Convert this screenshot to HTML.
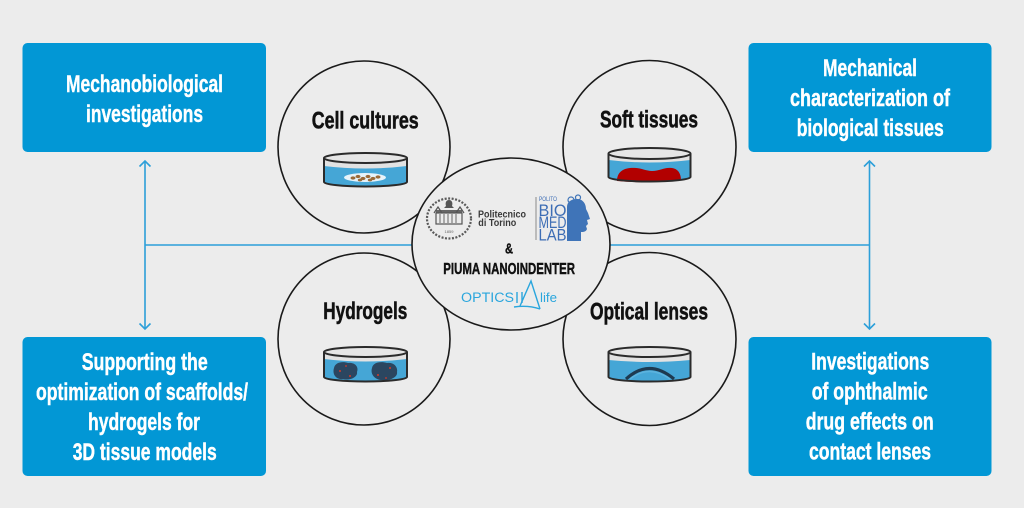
<!DOCTYPE html>
<html><head><meta charset="utf-8"><style>
html,body{margin:0;padding:0;background:#ececec;}
svg{display:block;}
.bt{font-family:"Liberation Sans Narrow","Liberation Sans",sans-serif;font-weight:bold;font-size:24px;fill:#fff;stroke:#fff;stroke-width:0.45px;}
.ct{font-family:"Liberation Sans Narrow","Liberation Sans",sans-serif;font-weight:bold;font-size:24px;fill:#111;stroke:#111;stroke-width:0.55px;}
</style></head><body>
<svg width="1024" height="508" viewBox="0 0 1024 508" xmlns="http://www.w3.org/2000/svg">
<rect width="1024" height="508" fill="#ececec"/>

<!-- boxes -->
<rect x="22.5" y="43" width="243.5" height="109" rx="5" fill="#0297d5"/>
<rect x="22.5" y="337" width="243.5" height="139" rx="5" fill="#0297d5"/>
<rect x="748.5" y="43" width="243" height="109" rx="5" fill="#0297d5"/>
<rect x="748.5" y="337" width="243" height="139" rx="5" fill="#0297d5"/>

<text class="bt" x="66" y="92" textLength="157" lengthAdjust="spacingAndGlyphs">Mechanobiological</text>
<text class="bt" x="86" y="122" textLength="117" lengthAdjust="spacingAndGlyphs">investigations</text>
<text class="bt" x="81.7" y="370" textLength="126" lengthAdjust="spacingAndGlyphs">Supporting the</text>
<text class="bt" x="36" y="400" textLength="212" lengthAdjust="spacingAndGlyphs">optimization of scaffolds/</text>
<text class="bt" x="88" y="430" textLength="112" lengthAdjust="spacingAndGlyphs">hydrogels for</text>
<text class="bt" x="72.7" y="460" textLength="144" lengthAdjust="spacingAndGlyphs">3D tissue models</text>
<text class="bt" x="823" y="76" textLength="94" lengthAdjust="spacingAndGlyphs">Mechanical</text>
<text class="bt" x="790" y="106" textLength="160" lengthAdjust="spacingAndGlyphs">characterization of</text>
<text class="bt" x="796.7" y="136" textLength="147" lengthAdjust="spacingAndGlyphs">biological tissues</text>
<text class="bt" x="811.3" y="369.5" textLength="118" lengthAdjust="spacingAndGlyphs">Investigations</text>
<text class="bt" x="811.7" y="399.5" textLength="116" lengthAdjust="spacingAndGlyphs">of ophthalmic</text>
<text class="bt" x="805.7" y="429.5" textLength="128" lengthAdjust="spacingAndGlyphs">drug effects on</text>
<text class="bt" x="809" y="459.5" textLength="122" lengthAdjust="spacingAndGlyphs">contact lenses</text>

<!-- connectors -->
<g stroke="#2c9fd9" stroke-width="1.6" fill="none">
<line x1="145" y1="161" x2="145" y2="329"/>
<polyline points="139.5,166.5 145,161 150.5,166.5"/>
<polyline points="139.5,323.5 145,329 150.5,323.5"/>
<line x1="869.5" y1="161" x2="869.5" y2="329"/>
<polyline points="864,166.5 869.5,161 875,166.5"/>
<polyline points="864,323.5 869.5,329 875,323.5"/>
<line x1="145" y1="245" x2="869.5" y2="245"/>
</g>

<!-- outer circles -->
<g fill="#ececec" stroke="#1a1a1a" stroke-width="1.6">
<circle cx="364" cy="147" r="86"/>
<circle cx="649.5" cy="147" r="86.5"/>
<circle cx="364" cy="339" r="86"/>
<circle cx="649.5" cy="339" r="86.5"/>
</g>

<text class="ct" x="311.7" y="128.3" textLength="107" lengthAdjust="spacingAndGlyphs">Cell cultures</text>
<text class="ct" x="600" y="127.5" textLength="98" lengthAdjust="spacingAndGlyphs">Soft tissues</text>
<text class="ct" x="323.3" y="319" textLength="84" lengthAdjust="spacingAndGlyphs">Hydrogels</text>
<text class="ct" x="590" y="319.3" textLength="118" lengthAdjust="spacingAndGlyphs">Optical lenses</text>

<!-- Cell cultures dish -->
<g>
<path d="M324,158 V182 A41.5,4.5 0 0 0 407,182 V158 Z" fill="#e2e2e2"/>
<path d="M324,166 Q365.5,171 407,166 V182 A41.5,4.5 0 0 1 324,182 Z" fill="#45a6d6"/>
<ellipse cx="365" cy="177.5" rx="21" ry="4.5" fill="#e6f3fa"/>
<g fill="#9b6a38">
<ellipse cx="353" cy="178" rx="2.5" ry="1.6"/><ellipse cx="358" cy="176.5" rx="2.5" ry="1.6"/>
<ellipse cx="363" cy="178.5" rx="2.5" ry="1.6"/><ellipse cx="368" cy="176.5" rx="2.5" ry="1.6"/>
<ellipse cx="373" cy="178.5" rx="2.5" ry="1.6"/><ellipse cx="378" cy="177" rx="2.5" ry="1.6"/>
<ellipse cx="360" cy="180" rx="2.2" ry="1.4"/><ellipse cx="370" cy="180" rx="2.2" ry="1.4"/>
</g>
<path d="M324,158 V182 A41.5,4.5 0 0 0 407,182 V158" fill="none" stroke="#2b2b2b" stroke-width="2"/>
<ellipse cx="365.5" cy="158" rx="41.5" ry="5" fill="#e6e6e6" stroke="#2b2b2b" stroke-width="2"/>
</g>

<!-- Soft tissues dish -->
<g>
<path d="M608.5,153.5 V177 A41,4.5 0 0 0 690.5,177 V153.5 Z" fill="#e2e2e2"/>
<path d="M608.5,160 Q649.5,165 690.5,160 V177 A41,4.5 0 0 1 608.5,177 Z" fill="#45a6d6"/>
<path d="M617,181 C617,175 620,169 630,168 C640,167 645,171 652,171 C660,171 664,167 672,168 C679,169 681,175 681,180 Q650,184 617,181 Z" fill="#b20000"/>
<path d="M608.5,153.5 V177 A41,4.5 0 0 0 690.5,177 V153.5" fill="none" stroke="#2b2b2b" stroke-width="2"/>
<ellipse cx="649.5" cy="153.5" rx="41" ry="5.5" fill="#e6e6e6" stroke="#2b2b2b" stroke-width="2"/>
</g>

<!-- Hydrogels dish -->
<g>
<path d="M324,352 V377 A41.5,4.5 0 0 0 407,377 V352 Z" fill="#e2e2e2"/>
<path d="M324,359 Q365.5,364 407,359 V377 A41.5,4.5 0 0 1 324,377 Z" fill="#45a6d6"/>
<g fill="#2b4660">
<path d="M334,368 C335,362 343,361 348,363 C355,362 359,367 357,372 C358,377 350,381 343,379 C336,380 332,374 334,368 Z"/>
<path d="M372,368 C373,362 381,361 387,363 C394,362 398,367 397,372 C398,377 390,381 382,380 C375,380 370,374 372,368 Z"/>
</g>
<g fill="#d23a2a">
<circle cx="340" cy="371" r="1"/><circle cx="350" cy="376" r="1"/><circle cx="346" cy="366" r="0.9"/>
<circle cx="378" cy="375" r="1"/><circle cx="390" cy="368" r="1"/><circle cx="386" cy="378" r="0.9"/>
</g>
<path d="M324,352 V377 A41.5,4.5 0 0 0 407,377 V352" fill="none" stroke="#2b2b2b" stroke-width="2"/>
<ellipse cx="365.5" cy="352" rx="41.5" ry="5" fill="#e6e6e6" stroke="#2b2b2b" stroke-width="2"/>
</g>

<!-- Optical lenses dish -->
<g>
<path d="M608.5,352 V377 A41,4.5 0 0 0 690.5,377 V352 Z" fill="#e2e2e2"/>
<path d="M608.5,360 Q649.5,364 690.5,360 V377 A41,4.5 0 0 1 608.5,377 Z" fill="#45a6d6"/>
<path d="M626,379 Q649,358 674,379" fill="none" stroke="#1e3a50" stroke-width="3.2"/>
<path d="M630,379 Q649,364 670,379" fill="none" stroke="#5cb3de" stroke-width="1.5"/>
<path d="M608.5,352 V377 A41,4.5 0 0 0 690.5,377 V352" fill="none" stroke="#2b2b2b" stroke-width="2"/>
<ellipse cx="649.5" cy="352" rx="41" ry="5" fill="#e6e6e6" stroke="#2b2b2b" stroke-width="2"/>
</g>

<!-- center ellipse -->
<ellipse cx="511" cy="244" rx="99" ry="86" fill="#ececec" stroke="#1a1a1a" stroke-width="1.6"/>

<!-- Politecnico seal -->
<g>
<ellipse cx="449" cy="218.5" rx="22" ry="20" fill="none" stroke="#5a5a5a" stroke-width="2.2" stroke-dasharray="2 1.5"/>
<path d="M449,200 c-3,0 -4,3 -3,6 l-2,2 h10 l-2,-2 c1,-3 0,-6 -3,-6z" fill="#555"/>
<rect x="436" y="210" width="26" height="3" fill="#666"/>
<rect x="436" y="213" width="26" height="11" fill="none" stroke="#555" stroke-width="1.2"/>
<g stroke="#666" stroke-width="1"><line x1="440" y1="214" x2="440" y2="223"/><line x1="444" y1="214" x2="444" y2="223"/><line x1="448" y1="214" x2="448" y2="223"/><line x1="452" y1="214" x2="452" y2="223"/><line x1="456" y1="214" x2="456" y2="223"/></g>
<path d="M434,213 L438,207 L442,213 M456,213 L460,207 L464,213" fill="none" stroke="#555" stroke-width="1.2"/>
<text x="449" y="233" font-family="Liberation Sans, sans-serif" font-size="4" fill="#666" text-anchor="middle">1859</text>
</g>
<text x="478" y="217.3" font-family="Liberation Sans, sans-serif" font-weight="bold" font-size="10" fill="#3a3a3a" textLength="48" lengthAdjust="spacingAndGlyphs">Politecnico</text>
<text x="478.3" y="226" font-family="Liberation Sans, sans-serif" font-weight="bold" font-size="10" fill="#3a3a3a" textLength="38" lengthAdjust="spacingAndGlyphs">di Torino</text>

<!-- BIOMEDLAB -->
<line x1="536" y1="197" x2="536" y2="240" stroke="#8a8a8a" stroke-width="1"/>
<g font-family="Liberation Sans, sans-serif" fill="#3d6db5">
<text x="539" y="201" font-size="6" textLength="18" lengthAdjust="spacingAndGlyphs">POLITO</text>
<text x="538.5" y="216" font-size="16.5" textLength="28" lengthAdjust="spacingAndGlyphs">BIO</text>
<text x="538.5" y="228" font-size="16.5" textLength="28" lengthAdjust="spacingAndGlyphs">MED</text>
<text x="538.5" y="240.5" font-size="16.5" textLength="28" lengthAdjust="spacingAndGlyphs">LAB</text>
</g>
<path d="M567,241 V207 C567,202 571,199 577,199 C583,199 586,204 586,209 L588,213 L590,219 L587,220 L588,224 L586,226 L587,229 C586,232 583,232 581,232 L581,241 Z" fill="#3f74b8"/>
<g fill="none" stroke="#3f74b8" stroke-width="1.2">
<circle cx="571" cy="200" r="3"/><circle cx="578" cy="197.5" r="2.5"/>
</g>

<!-- & and PIUMA -->
<text x="505" y="253.3" font-family="Liberation Sans Narrow, Liberation Sans, sans-serif" font-weight="bold" font-size="14.5" fill="#111" stroke="#111" stroke-width="0.4" textLength="8" lengthAdjust="spacingAndGlyphs">&amp;</text>
<text x="443.3" y="274" font-family="Liberation Sans Narrow, Liberation Sans, sans-serif" font-weight="bold" font-size="15.8" fill="#111" stroke="#111" stroke-width="0.45" textLength="131.7" lengthAdjust="spacingAndGlyphs">PIUMA NANOINDENTER</text>

<!-- OPTICS11 life -->
<text x="461" y="301.8" font-family="Liberation Sans, sans-serif" font-size="13.5" fill="#2aa6dd" textLength="53" lengthAdjust="spacingAndGlyphs">OPTICS</text>
<g stroke="#2aa6dd" stroke-width="1.4" fill="none">
<line x1="517" y1="292" x2="517" y2="303"/><line x1="522" y1="292" x2="522" y2="303"/>
<path d="M520,306 L531,281 L540,309"/>
<path d="M514,307 Q528,305 540,309"/>
</g>
<text x="540" y="302" font-family="Liberation Sans, sans-serif" font-size="12.5" fill="#2aa6dd" textLength="17" lengthAdjust="spacingAndGlyphs">life</text>
</svg>
</body></html>
